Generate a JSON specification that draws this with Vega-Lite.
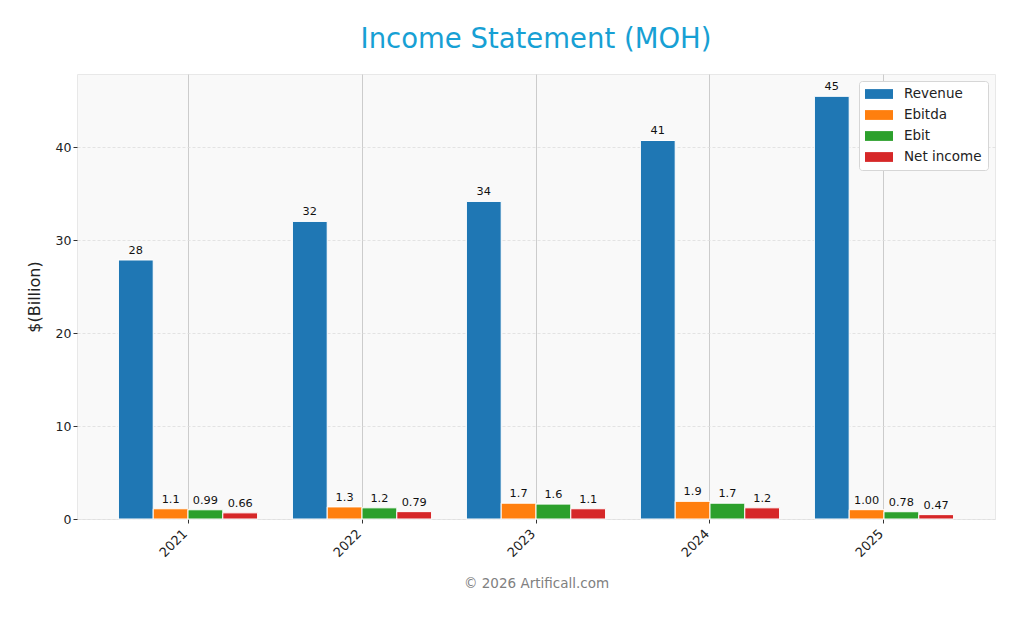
{
  "$schema": "https://vega.github.io/schema/vega-lite/v6.json",
  "width": 918,
  "height": 445,
  "autosize": "none",
  "padding": {"left": 77, "top": 74, "right": 25, "bottom": 98},
  "background": "white",
  "title": {
    "text": "Income Statement (MOH)",
    "font": "DejaVu Sans",
    "fontSize": 27.5,
    "fontWeight": "normal",
    "color": "#17a0d4",
    "anchor": "middle",
    "offset": 21
  },
  "config": {
    "font": "DejaVu Sans",
    "view": {"fill": "#f9f9f9", "stroke": "#e8e8e8"},
    "axis": {
      "labelFont": "DejaVu Sans",
      "labelFontSize": 12.5,
      "labelColor": "#222222",
      "tickColor": "#333333",
      "tickSize": 4,
      "domain": false
    }
  },
  "data": {
    "values": [
      {"year": "2021", "metric": "Revenue", "value": 27.85, "label": "28"},
      {"year": "2021", "metric": "Ebitda", "value": 1.1, "label": "1.1"},
      {"year": "2021", "metric": "Ebit", "value": 0.99, "label": "0.99"},
      {"year": "2021", "metric": "Net income", "value": 0.66, "label": "0.66"},
      {"year": "2022", "metric": "Revenue", "value": 32.0, "label": "32"},
      {"year": "2022", "metric": "Ebitda", "value": 1.3, "label": "1.3"},
      {"year": "2022", "metric": "Ebit", "value": 1.2, "label": "1.2"},
      {"year": "2022", "metric": "Net income", "value": 0.79, "label": "0.79"},
      {"year": "2023", "metric": "Revenue", "value": 34.15, "label": "34"},
      {"year": "2023", "metric": "Ebitda", "value": 1.7, "label": "1.7"},
      {"year": "2023", "metric": "Ebit", "value": 1.6, "label": "1.6"},
      {"year": "2023", "metric": "Net income", "value": 1.1, "label": "1.1"},
      {"year": "2024", "metric": "Revenue", "value": 40.7, "label": "41"},
      {"year": "2024", "metric": "Ebitda", "value": 1.9, "label": "1.9"},
      {"year": "2024", "metric": "Ebit", "value": 1.7, "label": "1.7"},
      {"year": "2024", "metric": "Net income", "value": 1.2, "label": "1.2"},
      {"year": "2025", "metric": "Revenue", "value": 45.45, "label": "45"},
      {"year": "2025", "metric": "Ebitda", "value": 1.0, "label": "1.00"},
      {"year": "2025", "metric": "Ebit", "value": 0.78, "label": "0.78"},
      {"year": "2025", "metric": "Net income", "value": 0.47, "label": "0.47"}
    ]
  },
  "encoding": {
    "x": {
      "field": "year",
      "type": "nominal",
      "scale": {"paddingInner": 0.2, "paddingOuter": 0.238},
      "axis": {
        "title": "© 2026 Artificall.com",
        "titleColor": "#808080",
        "titleFontSize": 13.5,
        "titleFontWeight": "normal",
        "titlePadding": 17,
        "labelAngle": -45,
        "labelAlign": "right",
        "labelBaseline": "top",
        "labelFontSize": 13,
        "labelOffset": -7,
        "labelPadding": 4,
        "bandPosition": 0.5,
        "grid": true,
        "gridColor": "#cccccc",
        "gridWidth": 1
      }
    },
    "xOffset": {
      "field": "metric",
      "type": "nominal",
      "sort": ["Revenue", "Ebitda", "Ebit", "Net income"],
      "scale": {"paddingInner": 0, "paddingOuter": 0}
    },
    "y": {
      "field": "value",
      "type": "quantitative",
      "scale": {"domain": [0, 47.85], "nice": false},
      "axis": {
        "title": "$(Billion)",
        "titleFontSize": 16,
        "titleFontWeight": "normal",
        "titleColor": "#222222",
        "titlePadding": 13,
        "values": [0, 10, 20, 30, 40],
        "grid": true,
        "gridColor": "#dddddd",
        "gridDash": [3, 2],
        "gridWidth": 0.8
      }
    }
  },
  "layer": [
    {
      "mark": {"type": "bar", "stroke": "white", "strokeWidth": 1},
      "encoding": {
        "color": {
          "field": "metric",
          "type": "nominal",
          "scale": {
            "domain": ["Revenue", "Ebitda", "Ebit", "Net income"],
            "range": ["#1f77b4", "#ff7f0e", "#2ca02c", "#d62728"]
          },
          "legend": {
            "title": null,
            "orient": "top-right",
            "offset": 7,
            "fillColor": "white",
            "strokeColor": "#d6d6d6",
            "cornerRadius": 3,
            "padding": 6,
            "labelFont": "DejaVu Sans",
            "labelFontSize": 13.5,
            "labelColor": "#222222",
            "rowPadding": 7,
            "symbolType": "M-1,-0.7H3V0.7H-1Z",
            "symbolSize": 196,
            "symbolStrokeWidth": 0,
            "symbolOpacity": 1,
            "labelOffset": 25
          }
        }
      }
    },
    {
      "mark": {
        "type": "text",
        "baseline": "bottom",
        "dy": -4,
        "fontSize": 11.3,
        "font": "DejaVu Sans",
        "color": "#111111"
      },
      "encoding": {
        "text": {"field": "label", "type": "nominal"}
      }
    }
  ]
}
